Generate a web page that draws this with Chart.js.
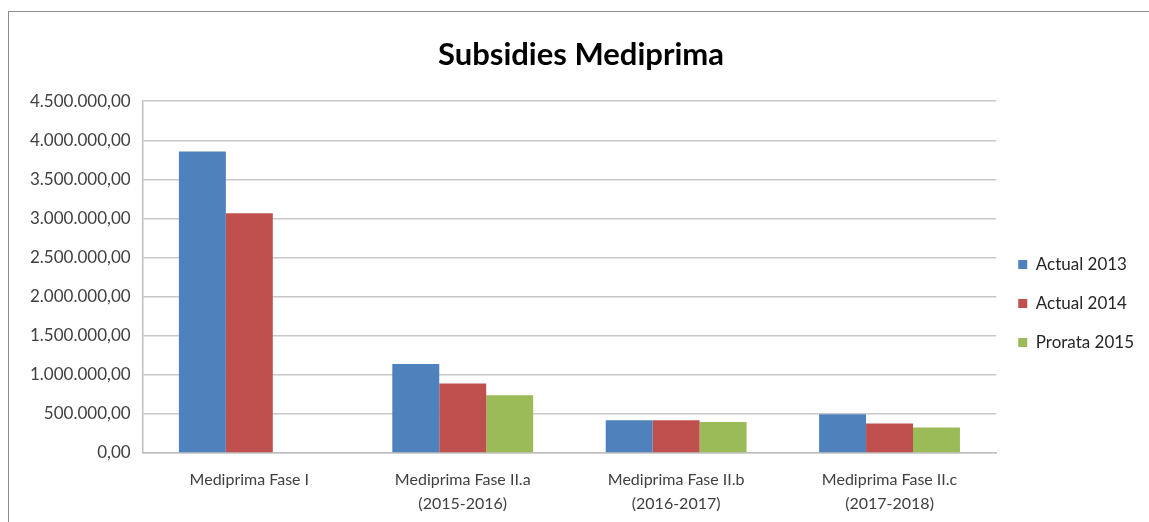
<!DOCTYPE html>
<html>
<head>
<meta charset="utf-8">
<script src="https://cdn.jsdelivr.net/npm/chart.js@4/dist/chart.umd.min.js"></script>
<style>
  html, body { margin: 0; padding: 0; background: #fff; overflow: hidden; }
  body { width: 1149px; height: 522px; position: relative; }
  #frame { position: absolute; left: 8px; top: 11px; width: 1160px; height: 530px; border: 1px solid #8c8c8c; }
  #wrap { position: absolute; left: 9px; top: 12px; width: 1150px; height: 519px; }
</style>
</head>
<body>
<div id="frame"></div>
<div id="wrap"><canvas id="chart-area"></canvas></div>
<script>
// data
var categories = [
    'Mediprima Fase I',
    ['Mediprima Fase II.a', '(2015-2016)'],
    ['Mediprima Fase II.b', '(2016-2017)'],
    ['Mediprima Fase II.c', '(2017-2018)']
];
var actual2013 = [3855000, 1140000, 420000, 497000];
var actual2014 = [3068000, 890000, 420000, 377000];
var prorata2015 = [null, 740000, 395000, 325000];

function euro(v) {
    var parts = Math.abs(v).toFixed(2).split('.');
    var intPart = parts[0].replace(/\B(?=(\d{3})+(?!\d))/g, '.');
    return (v < 0 ? '-' : '') + intPart + ',' + parts[1];
}

var config = {
    type: 'bar',
    data: {
        labels: categories,
        datasets: [{
            label: 'Actual 2013',
            data: actual2013,
            backgroundColor: '#4F81BD'
        }, {
            label: 'Actual 2014',
            data: actual2014,
            backgroundColor: '#C0504D'
        }, {
            label: 'Prorata 2015',
            data: prorata2015,
            backgroundColor: '#9BBB59'
        }]
    },
    options: {
        responsive: true,
        maintainAspectRatio: false,
        animation: false,
        layout: { padding: { left: 9, right: 15, top: 0, bottom: 0 } },
        datasets: { bar: { barPercentage: 1, categoryPercentage: 0.66 } },
        plugins: {
            title: {
                display: true,
                text: 'Subsidies Mediprima',
                color: '#000',
                font: { family: 'Lato', size: 31, weight: 'bold' },
                padding: { top: 24, bottom: 28 }
            },
            legend: {
                position: 'right',
                // empty legend title only pushes the items down a bit
                title: { display: true, text: ' ', font: { size: 10 }, padding: 26 },
                labels: {
                    color: '#262626',
                    font: { family: 'Lato', size: 17 },
                    boxWidth: 9,
                    boxHeight: 9,
                    padding: 22
                }
            },
            tooltip: { enabled: false }
        },
        scales: {
            x: {
                grid: { display: false, drawTicks: false },
                border: { color: '#bfbfbf', width: 1.5 },
                ticks: {
                    color: '#404040',
                    font: { family: 'Lato', size: 16, lineHeight: 1.5 },
                    padding: 15,
                    maxRotation: 0
                }
            },
            y: {
                min: 0,
                max: 4500000,
                grid: { color: '#c8c8c8', lineWidth: 1.5, drawTicks: false },
                border: { color: '#bfbfbf', width: 1.5 },
                ticks: {
                    stepSize: 500000,
                    color: '#404040',
                    font: { family: 'Lato', size: 17 },
                    padding: 12,
                    callback: function(v) { return euro(v); }
                }
            }
        }
    }
};

window.onload = function() {
    var ctx = document.getElementById('chart-area').getContext('2d');
    window.myBar = new Chart(ctx, config);
};
</script>
</body>
</html>
